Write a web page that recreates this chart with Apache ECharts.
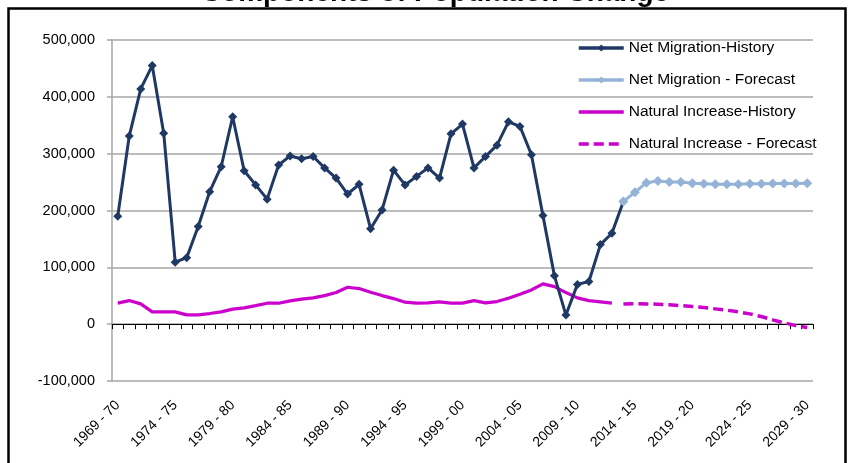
<!DOCTYPE html>
<html>
<head>
<meta charset="utf-8">
<script src="https://cdn.jsdelivr.net/npm/echarts@6/dist/echarts.min.js"></script>
<style>
html,body{margin:0;padding:0;background:#fff;}
#chart{width:850px;height:463px;}
</style>
</head>
<body>
<div id="chart"></div>
<script>
const categories = [
  "1969 - 70","1970 - 71","1971 - 72","1972 - 73","1973 - 74","1974 - 75","1975 - 76","1976 - 77","1977 - 78","1978 - 79",
  "1979 - 80","1980 - 81","1981 - 82","1982 - 83","1983 - 84","1984 - 85","1985 - 86","1986 - 87","1987 - 88","1988 - 89",
  "1989 - 90","1990 - 91","1991 - 92","1992 - 93","1993 - 94","1994 - 95","1995 - 96","1996 - 97","1997 - 98","1998 - 99",
  "1999 - 00","2000 - 01","2001 - 02","2002 - 03","2003 - 04","2004 - 05","2005 - 06","2006 - 07","2007 - 08","2008 - 09",
  "2009 - 10","2010 - 11","2011 - 12","2012 - 13","2013 - 14","2014 - 15","2015 - 16","2016 - 17","2017 - 18","2018 - 19",
  "2019 - 20","2020 - 21","2021 - 22","2022 - 23","2023 - 24","2024 - 25","2025 - 26","2026 - 27","2027 - 28","2028 - 29",
  "2029 - 30"
];

// Net migration, history (1969-70 .. 2013-14)
const netMigrationHistory = [
  190000, 331000, 414000, 455000, 336000, 109000, 117000, 172000, 233000, 277000,
  365000, 270000, 245000, 220000, 280000, 296000, 291000, 295000, 275000, 257000,
  229000, 246000, 168000, 201000, 271000, 245000, 260000, 275000, 257000, 335000,
  352000, 275000, 295000, 315000, 356000, 348000, 298000, 191000, 85000, 16000,
  70000, 75000, 140000, 160000, 216000
];
// Net migration, forecast (2013-14 .. 2029-30)
const netMigrationForecast = [
  216000, 232000, 249000, 252000, 250000, 250000, 248000, 247000, 246000, 246000,
  246000, 247000, 247000, 247500, 247500, 247500, 248000
];
// Natural increase, history (1969-70 .. 2012-13)
const naturalIncreaseHistory = [
  37000, 41500, 35700, 21600, 21600, 21600, 16400, 16400, 18700, 21600,
  26400, 28700, 32700, 36900, 36900, 41000, 44000, 46300, 50300, 55600,
  65000, 62600, 56300, 50300, 45000, 38700, 36900, 37500, 39200, 37000,
  37000, 41500, 37500, 39800, 45700, 52800, 60300, 70900, 66100, 55600,
  46300, 41500, 39200, 36900
];
// Natural increase, forecast (2013-14 .. 2029-30)
const naturalIncreaseForecast = [
  35700, 36200, 35700, 35200, 34000, 32700, 31000, 29200, 26900, 24600,
  21600, 18100, 13400, 7600, 2300, -2500, -6000
];
const forecastStart = 44;

const seriesNames = [
  "Net Migration-History",
  "Net Migration - Forecast",
  "Natural Increase-History",
  "Natural Increase - Forecast"
];
const titleText = "Components of Population Change";

function padForecast(arr, start) {
  const out = [];
  for (let i = 0; i < start; i++) out.push(null);
  return out.concat(arr);
}

const FONT = "'Liberation Sans', Arial, sans-serif";
const chart = echarts.init(document.getElementById('chart'), null, {renderer: 'canvas'});

chart.setOption({
  animation: false,
  backgroundColor: '#fff',
  grid: {left: 112, right: 37, top: 40, bottom: 82, containLabel: false, outerBoundsMode: 'none'},
  legend: {
    orient: 'vertical',
    left: 577,
    top: 40,
    padding: 0,
    itemWidth: 45,
    itemHeight: 9,
    itemGap: 16,
    lineStyle: {width: 3.5},
    data: [
      {name: seriesNames[0]},
      {name: seriesNames[1]},
      {name: seriesNames[2], itemStyle: {opacity: 0}},
      {name: seriesNames[3], itemStyle: {opacity: 0}}
    ],
    textStyle: {fontFamily: FONT, fontSize: 15.5, color: '#000'}
  },
  xAxis: [
    {
      type: 'category',
      data: categories,
      boundaryGap: true,
      position: 'bottom',
      axisLine: {show: true, onZero: true, lineStyle: {color: '#000', width: 1.2}},
      axisTick: {show: true, interval: 0, length: 5, lineStyle: {color: '#000', width: 1}},
      axisLabel: {show: false},
      splitLine: {show: false}
    },
    {
      type: 'category',
      data: categories,
      boundaryGap: true,
      position: 'bottom',
      axisLine: {show: false, onZero: false},
      axisTick: {show: false},
      axisLabel: {
        show: true, interval: 4, rotate: 45, margin: 22,
        fontFamily: FONT, fontSize: 14, color: '#000'
      },
      splitLine: {show: false}
    }
  ],
  yAxis: {
    type: 'value',
    min: -100000,
    max: 500000,
    interval: 100000,
    axisLine: {show: true, lineStyle: {color: '#a6a6a6', width: 1.5}},
    axisTick: {show: true, length: 5, lineStyle: {color: '#a6a6a6', width: 1.5}},
    splitLine: {show: true, lineStyle: {color: '#a6a6a6', width: 1.5}},
    axisLabel: {
      margin: 17,
      fontFamily: FONT, fontSize: 14.5, color: '#000',
      formatter: v => v.toLocaleString('en-US')
    }
  },
  graphic: [
    {
      type: 'rect',
      silent: true,
      shape: {x: 8.5, y: 8.5, width: 837, height: 470},
      style: {fill: null, stroke: '#000', lineWidth: 2.5},
      z: 100
    },
    {
      type: 'text',
      silent: true,
      x: 435,
      y: -7,
      style: {
        text: titleText,
        font: "bold 28px 'Liberation Sans', Arial, sans-serif",
        fill: '#000',
        textAlign: 'center',
        textVerticalAlign: 'middle'
      },
      z: 100
    }
  ],
  series: [
    {
      name: seriesNames[0],
      type: 'line',
      xAxisIndex: 0,
      data: netMigrationHistory,
      symbol: 'diamond',
      symbolSize: 9,
      showSymbol: true,
      showAllSymbol: true,
      color: '#1F3864',
      lineStyle: {color: '#1F3864', width: 3},
      itemStyle: {color: '#1F3864'},
      z: 3
    },
    {
      name: seriesNames[1],
      type: 'line',
      xAxisIndex: 0,
      data: padForecast(netMigrationForecast, forecastStart),
      symbol: 'diamond',
      symbolSize: 10,
      showSymbol: true,
      showAllSymbol: true,
      color: '#95B3D7',
      lineStyle: {color: '#95B3D7', width: 3},
      itemStyle: {color: '#95B3D7'},
      z: 4
    },
    {
      name: seriesNames[2],
      type: 'line',
      xAxisIndex: 0,
      data: naturalIncreaseHistory,
      symbol: 'none',
      showSymbol: false,
      color: '#CC00CC',
      lineStyle: {color: '#CC00CC', width: 3.2},
      z: 2
    },
    {
      name: seriesNames[3],
      type: 'line',
      xAxisIndex: 0,
      data: padForecast(naturalIncreaseForecast, forecastStart),
      symbol: 'none',
      showSymbol: false,
      color: '#CC00CC',
      lineStyle: {color: '#CC00CC', width: 3.5, type: [10, 5]},
      z: 2
    }
  ]
});
</script>
</body>
</html>
